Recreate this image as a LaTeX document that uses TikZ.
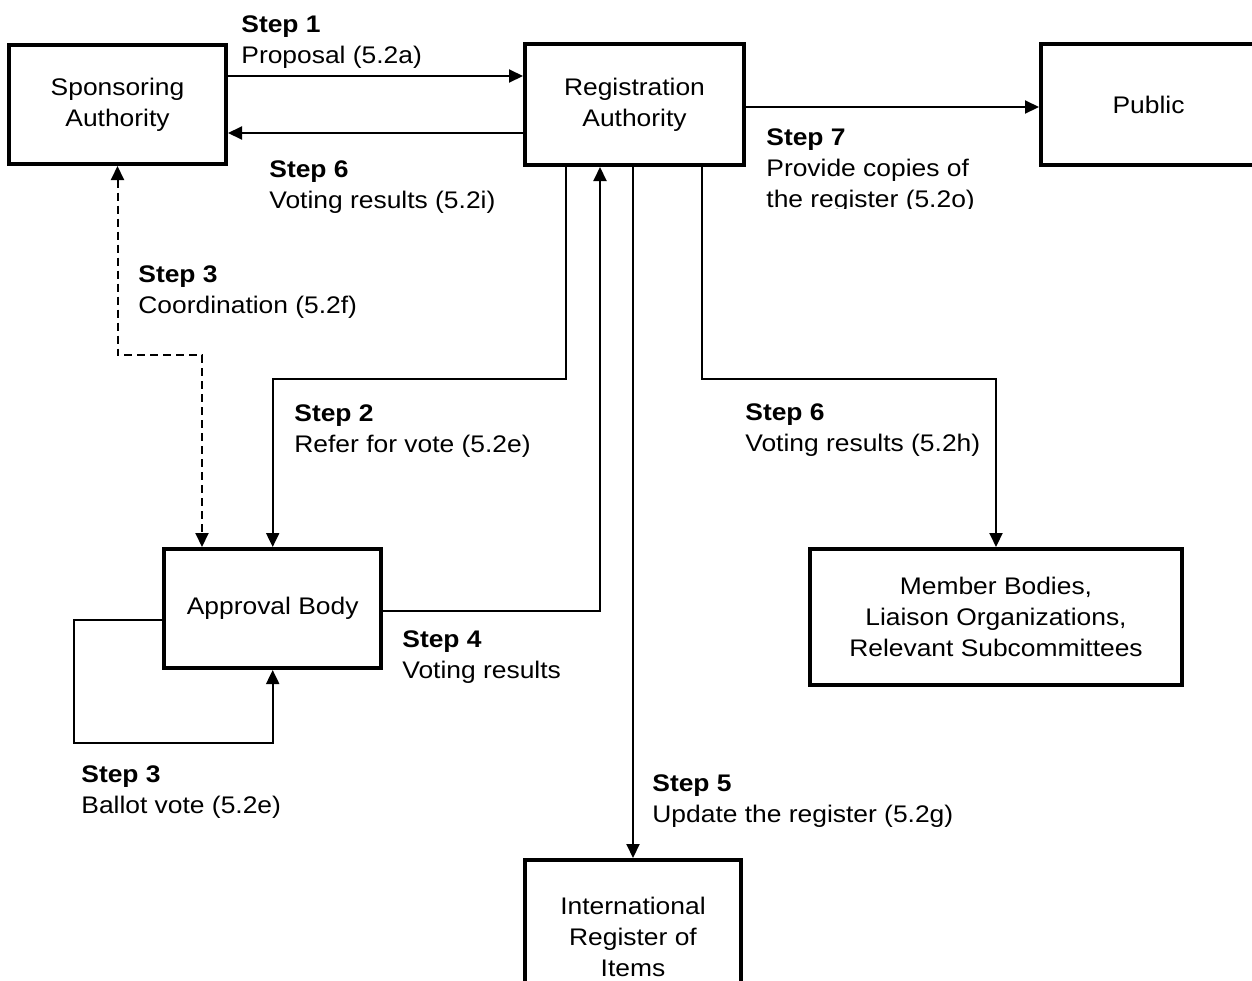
\documentclass[tikz,border=0pt]{standalone}
\usepackage{fontspec}
\setmainfont{Liberation Sans}[FakeStretch=1.1]
\usetikzlibrary{arrows.meta,calc}

\begin{document}
\begin{tikzpicture}[x=0.5pt,y=-0.5pt,
  font=\fontsize{12}{15.5}\selectfont,
  box/.style={draw,line width=2pt,inner sep=0pt,align=center},
  lbl/.style={anchor=base west,align=left,inner sep=0pt},
  conn/.style={line width=1pt,-{Triangle[length=7pt,width=6.5pt]}},
  coord/.style={line width=1pt,dash pattern=on 4pt off 2.5pt,
    {Triangle[length=7pt,width=6.5pt]}-{Triangle[length=7pt,width=6.5pt]}}]
  \clip (0,0) rectangle (1252,980);
  \node[box,minimum width=108.5pt,minimum height=59.5pt] (sa) at (117.5,104.5) {Sponsoring\\Authority};
  \node[box,minimum width=109.5pt,minimum height=60.5pt] (ra) at (634.5,104.5) {Registration\\Authority};
  \node[box,minimum width=107.5pt,minimum height=60.5pt] (pub) at (1148.5,104.5) {Public};
  \node[box,minimum width=108.25pt,minimum height=59.5pt] (ab) at (272.7,608.5) {Approval Body};
  \node[box,minimum width=186pt,minimum height=68pt] (mb) at (996,617) {Member Bodies,\\Liaison Organizations,\\Relevant Subcommittees};
  \node[box,minimum width=108pt,minimum height=77pt] (iri) at (633,937) {International\\Register of\\Items};

  \draw[conn] ($(sa.east)+(0,-28.5)$) -- ($(ra.west)+(0,-28.5)$);
  \draw[conn] ($(ra.west)+(0,28.5)$) -- ($(sa.east)+(0,28.5)$);
  \draw[conn] ($(ra.east)+(0,2.5)$) -- ($(pub.west)+(0,2.5)$);
  \draw[coord] (sa.south) |- ($(ab.north)+(-70.7,-192)$) -- ($(ab.north)+(-70.7,0)$);
  \draw[conn] ($(ra.south)+(-68.5,0)$) |- ($(ab.north)+(0,-168)$) -- (ab.north);
  \draw[conn] ($(ab.east)+(0,2.5)$) -| ($(ra.south)+(-34.5,0)$);
  \draw[conn] (ra.south -| iri.north) -- (iri.north);
  \draw[conn] ($(ra.south)+(67.5,0)$) |- ($(mb.north)+(0,-168)$) -- (mb.north);
  \draw[conn] ($(ab.west)+(0,11.5)$) -- ++(-88.5,0) |- ($(ab.south)+(0,73)$) -- (ab.south);

  \node[lbl] (s1) at (241,63) {\textbf{Step 1}\\Proposal (5.2a)};
  \node[lbl] (s6a) at (269,208) {\textbf{Step 6}\\Voting results (5.2i)};
  \node[lbl] (s3a) at (138,313) {\textbf{Step 3}\\Coordination (5.2f)};
  \node[lbl] (s2) at (294,452) {\textbf{Step 2}\\Refer for vote (5.2e)};
  \node[lbl] (s6b) at (745,451) {\textbf{Step 6}\\Voting results (5.2h)};
  \node[lbl] (s4) at (402,678) {\textbf{Step 4}\\Voting results};
  \node[lbl] (s5) at (652,822) {\textbf{Step 5}\\Update the register (5.2g)};
  \node[lbl] (s3b) at (81,813) {\textbf{Step 3}\\Ballot vote (5.2e)};
  \begin{scope}
    \clip (740,0) rectangle (1030,208);
    \node[lbl] (s7) at (766,207) {\textbf{Step 7}\\Provide copies of\\the register (5.2o)};
  \end{scope}
\end{tikzpicture}
\end{document}
